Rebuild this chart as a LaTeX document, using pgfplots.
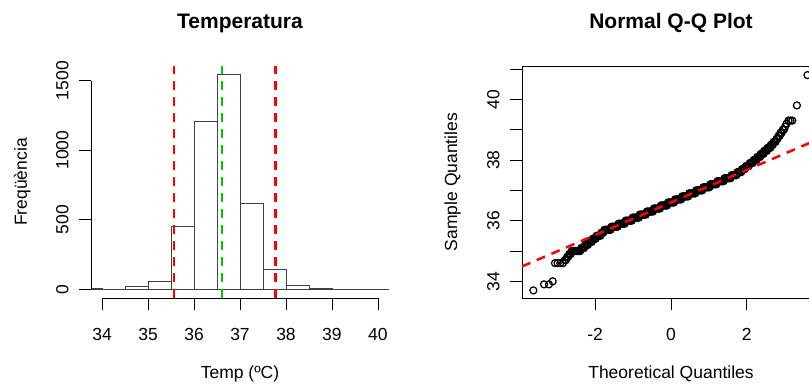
\documentclass[border=0pt]{standalone}
\usepackage{fontspec}
\setmainfont{Liberation Sans}
\usepackage{pgfplots}
\pgfplotsset{compat=1.18}
\definecolor{rred}{RGB}{255,0,0}
\definecolor{rgreen}{RGB}{0,205,0}

\pgfplotstableread{
x y
-3.63 33.7
-3.35 33.9
-3.22 33.9
-3.12 34.0
-3.06 34.6
-2.99 34.6
-2.92 34.6
-2.85 34.6
-2.80 34.7
-2.77 34.7
-2.74 34.8
-2.715 34.8
-2.685 34.9
-2.66 34.9
-2.645 34.9
-2.62 35.0
-2.595 35.0
-2.57 35.0
-2.545 35.0
-2.52 35.0
-2.495 35.0
-2.47 35.0
-2.445 35.0
-2.42 35.0
-2.395 35.0
-2.365 35.1
-2.34 35.1
-2.315 35.1
-2.29 35.1
-2.265 35.2
-2.24 35.2
-2.215 35.2
-2.19 35.2
-2.165 35.3
-2.14 35.3
-2.115 35.3
-2.09 35.3
-2.065 35.4
-2.04 35.4
-2.015 35.4
-1.99 35.4
-1.965 35.5
-1.94 35.5
-1.915 35.5
-1.89 35.5
-1.865 35.5
-1.84 35.6
-1.815 35.6
-1.79 35.6
-1.756 35.7
-1.729 35.7
-1.702 35.7
-1.675 35.7
-1.648 35.7
-1.621 35.7
-1.594 35.7
-1.570 35.8
-1.543 35.8
-1.516 35.8
-1.489 35.8
-1.462 35.8
-1.435 35.8
-1.408 35.8
-1.384 35.9
-1.357 35.9
-1.330 35.9
-1.303 35.9
-1.276 35.9
-1.249 35.9
-1.222 35.9
-1.197 36.0
-1.170 36.0
-1.143 36.0
-1.116 36.0
-1.089 36.0
-1.062 36.0
-1.035 36.0
-1.011 36.1
-0.984 36.1
-0.957 36.1
-0.930 36.1
-0.903 36.1
-0.876 36.1
-0.849 36.1
-0.825 36.2
-0.798 36.2
-0.771 36.2
-0.744 36.2
-0.717 36.2
-0.690 36.2
-0.663 36.2
-0.639 36.3
-0.612 36.3
-0.585 36.3
-0.558 36.3
-0.531 36.3
-0.504 36.3
-0.477 36.3
-0.453 36.4
-0.426 36.4
-0.399 36.4
-0.372 36.4
-0.345 36.4
-0.318 36.4
-0.291 36.4
-0.266 36.5
-0.239 36.5
-0.212 36.5
-0.185 36.5
-0.158 36.5
-0.131 36.5
-0.104 36.5
-0.080 36.6
-0.053 36.6
-0.026 36.6
0.001 36.6
0.028 36.6
0.055 36.6
0.082 36.6
0.106 36.7
0.133 36.7
0.160 36.7
0.187 36.7
0.214 36.7
0.241 36.7
0.268 36.7
0.292 36.8
0.319 36.8
0.346 36.8
0.373 36.8
0.400 36.8
0.427 36.8
0.454 36.8
0.479 36.9
0.506 36.9
0.533 36.9
0.560 36.9
0.587 36.9
0.614 36.9
0.641 36.9
0.665 37.0
0.692 37.0
0.719 37.0
0.746 37.0
0.773 37.0
0.800 37.0
0.827 37.0
0.851 37.1
0.878 37.1
0.905 37.1
0.932 37.1
0.959 37.1
0.986 37.1
1.013 37.1
1.037 37.2
1.064 37.2
1.091 37.2
1.118 37.2
1.145 37.2
1.172 37.2
1.199 37.2
1.223 37.3
1.250 37.3
1.277 37.3
1.304 37.3
1.331 37.3
1.358 37.3
1.385 37.3
1.410 37.4
1.437 37.4
1.464 37.4
1.491 37.4
1.518 37.4
1.545 37.4
1.572 37.4
1.600 37.5
1.625 37.5
1.650 37.5
1.675 37.5
1.700 37.5
1.725 37.5
1.750 37.6
1.775 37.6
1.800 37.6
1.825 37.6
1.850 37.6
1.870 37.7
1.895 37.7
1.920 37.7
1.945 37.7
1.975 37.8
2.000 37.8
2.025 37.8
2.050 37.8
2.080 37.9
2.105 37.9
2.130 37.9
2.155 37.9
2.180 38.0
2.205 38.0
2.230 38.0
2.255 38.0
2.275 38.1
2.300 38.1
2.325 38.1
2.350 38.1
2.365 38.2
2.390 38.2
2.415 38.2
2.440 38.2
2.455 38.3
2.480 38.3
2.505 38.3
2.530 38.3
2.545 38.4
2.570 38.4
2.595 38.4
2.620 38.4
2.635 38.5
2.660 38.5
2.685 38.5
2.710 38.6
2.735 38.6
2.760 38.6
2.785 38.7
2.810 38.7
2.840 38.8
2.870 38.8
2.89 38.9
2.92 38.9
2.95 39.0
2.98 39.0
3.01 39.1
3.05 39.2
3.10 39.3
3.15 39.3
3.20 39.3
3.32 39.8
3.60 40.8
}\qqdata

\begin{document}
\begin{tikzpicture}[x=1pt,y=1pt]
\useasboundingbox (0,0) rectangle (809,385);
\clip (0,0) rectangle (809,385);
\pgfplotsset{
  rstyle/.style={
    scale only axis, width=298pt, height=232pt,
    tick align=outside, tick pos=left,
    major tick length=11.7pt,
    tick style={black, line width=0.9pt},
    tick label style={font=\fontsize{17.5}{20}\selectfont},
    label style={font=\fontsize{17.5}{20}\selectfont},
    title style={font=\fontsize{21}{25}\selectfont\bfseries, at={(axis description cs:0.5,1.135)}, anchor=base},
    xlabel style={at={(axis description cs:0.5,-0.347)}, anchor=base},
    xticklabel style={anchor=base, yshift=-31pt},
    yticklabel style={xshift=-11pt, rotate=90, anchor=base},
  }
}
\begin{axis}[rstyle, at={(91pt,87pt)}, anchor=south west,
  xmin=33.76, xmax=40.24, ymin=-62, ymax=1605, clip=false,
  axis lines*=left, axis line style={draw=none},
  xtick={34,35,36,37,38,39,40}, xticklabels={34,35,36,37,38,39,40},
  ytick={0,500,1000,1500}, yticklabels={0,500,1000,1500},
  title={Temperatura}, xlabel={Temp (ºC)}, ylabel={Freqüència},
  ylabel style={at={(axis description cs:-0.2148,0.5)}, anchor=base}]
\addplot[ybar interval, draw=black!75, fill=white, line width=0.9pt] coordinates {
(33.76,4) (34,0) (34.5,19) (35,58) (35.5,449) (36,1206) (36.5,1543) (37,614) (37.5,146) (38,31) (38.5,7) (39,2) (39.5,1) (40,0) (40.24,0)};
\draw[black, line width=0.9pt] (axis cs:34,-62) -- (axis cs:40,-62);
\draw[black, line width=0.9pt] (axis cs:33.76,0) -- (axis cs:33.76,1500);
\addplot[rred, line width=2.5pt, dash pattern=on 9pt off 7pt] coordinates {(35.56,-62) (35.56,1605)};
\addplot[rgreen, line width=2.5pt, dash pattern=on 9pt off 7pt] coordinates {(36.61,-62) (36.61,1605)};
\addplot[rred, line width=2.5pt, dash pattern=on 9pt off 7pt] coordinates {(37.77,-62) (37.77,1605)};
\end{axis}

\begin{axis}[rstyle, at={(522pt,87pt)}, anchor=south west,
  xmin=-3.93, xmax=3.93, ymin=33.45, ymax=41.1,
  clip marker paths=true,
  axis line style={line width=0.9pt},
  xtick={-2,0,2}, xticklabels={-2,0,2},
  ytick={34,35,36,37,38,39,40,41}, yticklabels={34,,36,,38,,40,},
  title={Normal Q-Q Plot}, xlabel={Theoretical Quantiles}, ylabel={Sample Quantiles},
  ylabel style={at={(axis description cs:-0.218,0.5)}, anchor=base}]
\addplot[only marks, mark=o, mark size=3.5pt, mark options={black, line width=1.25pt}] table[x=x, y=y] {\qqdata};
\addplot[rred, line width=2.5pt, dash pattern=on 9pt off 7pt] coordinates {(-3.93,34.49) (3.93,38.71)};
\end{axis}
\end{tikzpicture}
\end{document}
